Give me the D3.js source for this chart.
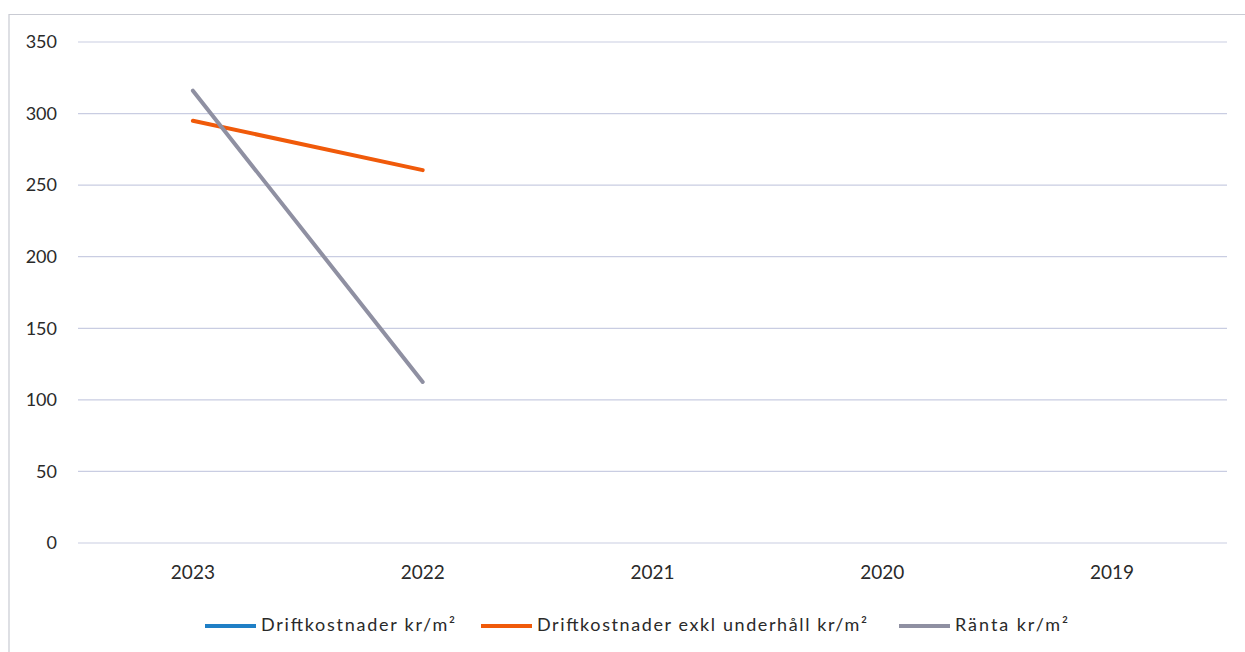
<!DOCTYPE html>
<html><head><meta charset="utf-8">
<script src="https://cdn.jsdelivr.net/npm/d3@7"></script>
<style>body{margin:0;background:#fff}svg{display:block}</style>
</head><body>
<svg id="c" width="1245" height="652"></svg>
<script>
const years = ["2023","2022","2021","2020","2019"];
const drift = [null,null,null,null,null];
const driftExkl = [295,260.5,null,null,null];
const ranta = [316,112.5,null,null,null];
const yTicks = [0,50,100,150,200,250,300,350];
const seriesNames = ["Driftkostnader kr/m²","Driftkostnader exkl underhåll kr/m²","Ränta kr/m²"];
const colors = ["#1f7fc6","#f05a0a","#8f90a2"];

const svg = d3.select("#c");
const font = "Lato, 'Open Sans', sans-serif";
// frame
svg.append("path").attr("d","M9,652 L9,14.5 L1245,14.5").attr("fill","none").attr("stroke","#c9cbd3").attr("stroke-width",1.2);

const x = d3.scaleBand().domain(years).range([78,1227]);
const y = d3.scaleLinear().domain([0,350]).range([543,42]);

const g = svg.append("g");
g.selectAll("line.grid").data(yTicks).enter().append("line")
  .attr("x1",78).attr("x2",1227).attr("y1",d=>y(d)).attr("y2",d=>y(d))
  .attr("stroke","#c9cde2").attr("stroke-width",1.2);

g.selectAll("text.yl").data(yTicks).enter().append("text")
  .attr("x",57).attr("y",d=>y(d)).attr("dy","0.35em").attr("text-anchor","end")
  .attr("font-family",font).attr("font-size",18).attr("fill","#2a2a2a").text(d=>d);

g.selectAll("text.xl").data(years).enter().append("text")
  .attr("x",d=>x(d)+x.bandwidth()/2).attr("y",572).attr("dy","0.35em").attr("text-anchor","middle")
  .attr("font-family",font).attr("font-size",19).attr("fill","#2a2a2a").text(d=>d);

const line = d3.line().defined(d=>d.v!=null).x(d=>x(d.k)+x.bandwidth()/2).y(d=>y(d.v));
[drift,driftExkl,ranta].forEach((arr,i)=>{
  const data = years.map((k,j)=>({k,v:arr[j]}));
  g.append("path").datum(data).attr("d",line).attr("fill","none")
   .attr("stroke",colors[i]).attr("stroke-width",4).attr("stroke-linecap","round");
});

// legend
const legX = [205,481,899];
const legW = [194,330,113];
seriesNames.forEach((n,i)=>{
  svg.append("line").attr("x1",legX[i]).attr("x2",legX[i]+51).attr("y1",626).attr("y2",626)
    .attr("stroke",colors[i]).attr("stroke-width",4);
  svg.append("text").attr("x",legX[i]+56).attr("y",625).attr("dy","0.35em")
    .attr("font-family",font).attr("font-size",18).attr("fill","#2a2a2a")
    .attr("textLength",legW[i]).attr("lengthAdjust","spacing").text(n);
});
</script>
</body></html>
